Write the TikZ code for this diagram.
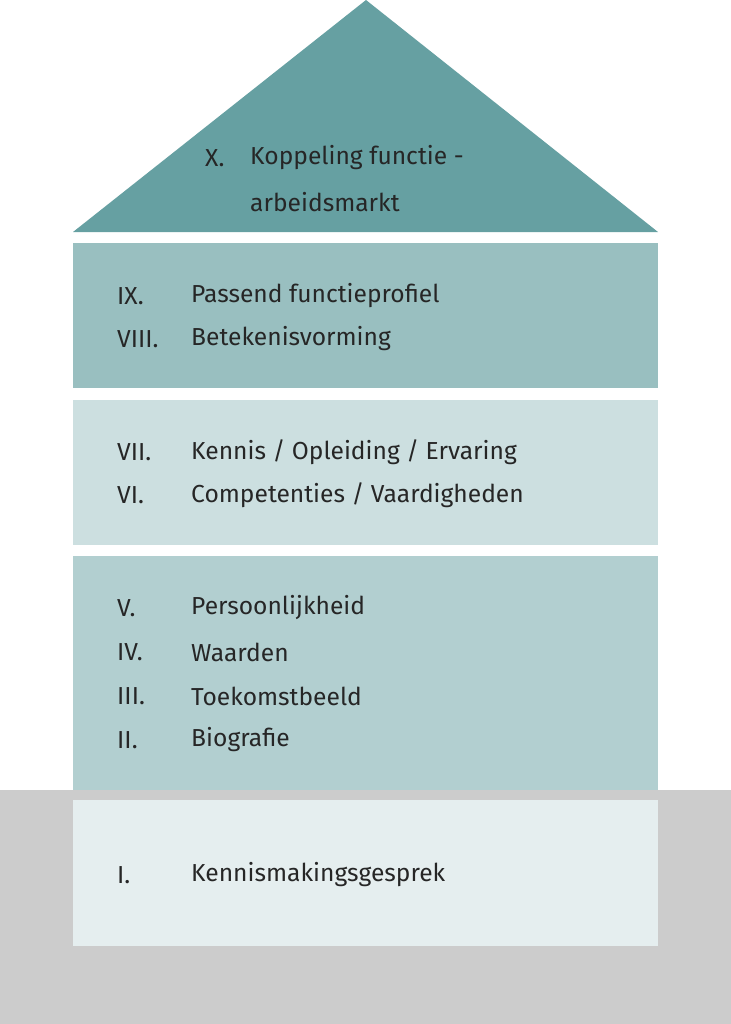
\documentclass[tikz,border=0pt]{standalone}
\usepackage{fontspec}
\setmainfont{Fira Sans}
\usetikzlibrary{positioning}
\definecolor{roofc}{HTML}{66A0A2}
\definecolor{bandA}{HTML}{99BFC0}
\definecolor{bandB}{HTML}{CCDFE0}
\definecolor{bandC}{HTML}{B2CFD0}
\definecolor{bandD}{HTML}{E5EEEF}
\definecolor{groundc}{HTML}{CCCCCC}
\tikzset{
  num/.style={anchor=west, inner sep=0pt, font=\fontsize{21}{25}\selectfont, text=black!85},
  lbl/.style={anchor=west, inner sep=0pt, font=\fontsize{21}{25}\selectfont, text=black!85},
}
\begin{document}
\begin{tikzpicture}[x=0.03cm,y=-0.03cm]
\useasboundingbox (0,0) rectangle (731,1024);
%%%GROUND AND HOUSE
\fill[white] (0,0) rectangle (731,1024);
\fill[groundc] (0,790) rectangle (731,1024);
\fill[roofc] (366,0) -- (658,232) -- (73,232) -- cycle;
\fill[bandA] (73,243) rectangle (658,388);
\fill[bandB] (73,400) rectangle (658,545);
\fill[bandC] (73,556) rectangle (658,790);
\fill[bandD] (73,800) rectangle (658,946);
%%%ROOF
\node[num] (n10) at (205,158) {X.};
\node[lbl] (t10) at (250,158) {Koppeling functie -};
\node[lbl] (t10b) at (250,202) {arbeidsmarkt};
%%%BANDS
\foreach \n/\t/\y [count=\i] in {IX./{Passend functieprofiel}/296, VIII./{Betekenisvorming}/339,
  VII./{Kennis / Opleiding / Ervaring}/452, VI./{Competenties / Vaardigheden}/495,
  V./{Persoonlijkheid}/608, IV./{Waarden}/652, III./{Toekomstbeeld}/696, II./{Biografie}/740,
  I./{Kennismakingsgesprek}/875}
{
  \node[num] (n\i) at (117,\y) {\n};
  \node[lbl] (t\i) at (191,\y) {\t};
}
\end{tikzpicture}
\end{document}
